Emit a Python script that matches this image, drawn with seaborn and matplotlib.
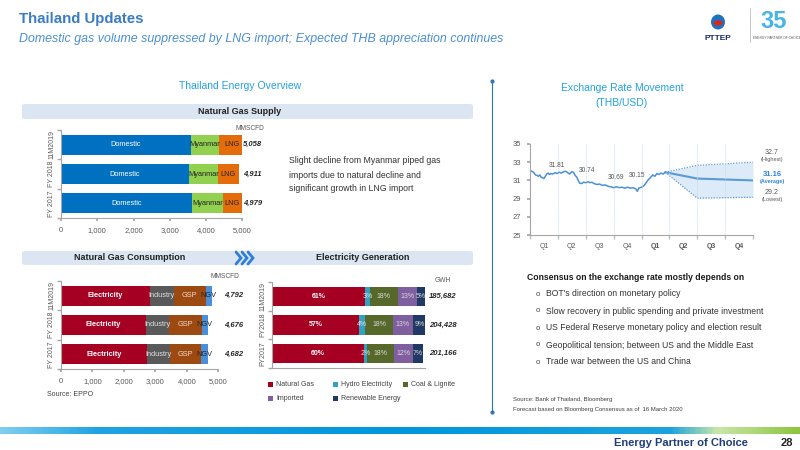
import numpy as np
import pandas as pd
import matplotlib.pyplot as plt
import seaborn as sns
from matplotlib.patches import FancyBboxPatch, Rectangle, Ellipse, Circle
from matplotlib.lines import Line2D
from matplotlib.colors import LinearSegmentedColormap

# ---- data ----
supply_years = ["11M2019", "FY 2018", "FY 2017"]
supply_domestic = [3590, 3530, 3620]
supply_myanmar = [770, 790, 850]
supply_lng = [698, 591, 509]
supply_total = [5058, 4911, 4979]

cons_years = ["11M2019", "FY 2018", "FY 2017"]
cons_electricity = [2840, 2690, 2720]
cons_industry = [740, 750, 730]
cons_gsp = [1020, 1030, 1000]
cons_ngv = [192, 206, 232]
cons_total = [4792, 4676, 4682]

elec_years = ["11M2019", "FY2018", "FY2017"]
elec_gas = [61, 57, 60]
elec_hydro = [3, 4, 2]
elec_coal = [18, 18, 18]
elec_import = [13, 13, 12]
elec_renew = [5, 9, 7]
elec_total = [185682, 204428, 201166]

# THB/USD, x in quarters since start of 2019
fx_q = [0.00, 0.05, 0.10, 0.15, 0.20, 0.25, 0.30, 0.35, 0.40, 0.45, 0.50, 0.55,
        0.60, 0.65, 0.70, 0.75, 0.82, 0.90, 0.98, 1.05, 1.12, 1.20, 1.28, 1.35,
        1.42, 1.50, 1.56, 1.62, 1.68, 1.72, 1.78, 1.85, 1.92, 2.00, 2.08, 2.15,
        2.22, 2.30, 2.40, 2.50, 2.60, 2.70, 2.80, 2.90, 3.00, 3.10, 3.20, 3.30,
        3.40, 3.50, 3.60, 3.70, 3.80, 3.85, 3.90, 4.00, 4.10, 4.18, 4.25, 4.32,
        4.40, 4.48, 4.55, 4.62, 4.70, 4.78, 4.85]
fx_rate = [32.15, 32.0, 31.95, 31.8, 31.6, 31.55, 31.45, 31.6, 31.35, 31.3, 31.2, 31.45,
           31.7, 31.8, 31.65, 31.75, 31.7, 31.85, 31.75, 31.9, 31.8, 31.95, 32.0, 31.85,
           31.7, 31.95, 31.9, 31.55, 31.35, 31.05, 30.7, 30.65, 30.8, 30.75, 30.85, 30.75,
           30.8, 30.65, 30.55, 30.6, 30.45, 30.5, 30.35, 30.3, 30.2, 30.3, 30.2, 30.25,
           30.15, 30.25, 30.15, 30.2, 30.05, 29.8, 30.15, 30.25, 30.45, 30.8, 31.1, 31.3,
           31.6, 31.45, 31.75, 31.65, 31.8, 31.7, 31.9]
fc_q = [4.85, 6.0, 8.0]
fc_avg = [31.9, 31.2, 31.0]
fc_high = [31.9, 32.65, 33.0]
fc_low = [31.9, 29.05, 29.15]
q_labels = ["Q1", "Q2", "Q3", "Q4", "Q1", "Q2", "Q3", "Q4"]
avg_labels = ["31.81", "30.74", "30.69", "30.15"]

bullets = ["BOT's direction on monetary policy",
           "Slow recovery in public spending and private investment",
           "US Federal Reserve monetary policy and election result",
           "Geopolitical tension; between US and the Middle East",
           "Trade war between the US and China"]

sns.set_theme(style="white")
plt.rcParams['font.family'] = ['Liberation Sans', 'DejaVu Sans']

W, H = 800, 450
fig = plt.figure(figsize=(8, 4.5), dpi=100)
fig.patch.set_facecolor("white")


def px_axes(x0, y0, x1, y1):
    return fig.add_axes([x0 / W, 1 - y1 / H, (x1 - x0) / W, (y1 - y0) / H])


def ftext(x, y, s, **kw):
    kw.setdefault("va", "center")
    return fig.text(x / W, 1 - y / H, s, **kw)


def band(x0, y0, x1, y1):
    fig.patches.append(FancyBboxPatch((x0 / W, 1 - y1 / H), (x1 - x0) / W, (y1 - y0) / H,
                                      boxstyle="round,pad=0,rounding_size=0.004",
                                      transform=fig.transFigure, fc="#DCE6F2", ec="none"))


def stacked(ax, cats, segs, colors):
    cum = np.cumsum(np.array(segs, dtype=float), axis=0)
    for i in range(len(segs) - 1, -1, -1):
        sns.barplot(x=cum[i], y=cats, orient="h", color=colors[i], width=0.68,
                    saturation=1, linewidth=0, ax=ax)
    return cum


def style_ax(ax, xmax, ticks, labels, cats):
    ax.set_xlim(0, xmax)
    ax.set_ylim(2.5, -0.5)
    ax.set_xlabel("")
    ax.set_ylabel("")
    ax.set_xticks(ticks)
    ax.set_xticklabels(labels)
    ax.set_yticks([0, 1, 2])
    ax.set_yticklabels(cats, rotation=90, va="center")
    ax.set_yticks([-0.5, 0.5, 1.5, 2.5], minor=True)
    ax.tick_params(axis="y", which="major", length=0, labelsize=5, labelcolor="#595959", pad=4)
    ax.tick_params(axis="y", which="minor", length=3, color="#A6A6A6", left=True)
    ax.tick_params(axis="x", length=2.5, color="#A6A6A6", bottom=True,
                   labelsize=5.5, labelcolor="#595959", pad=4)
    for s in ["top", "right"]:
        ax.spines[s].set_visible(False)
    for s in ["left", "bottom"]:
        ax.spines[s].set_color("#A6A6A6")
        ax.spines[s].set_linewidth(0.8)
    ax.set_facecolor("none")


def seg_labels(ax, cum, names, colors, weights, size=5.3):
    for i, nm in enumerate(names):
        for j in range(cum.shape[1]):
            left = cum[i - 1, j] if i > 0 else 0
            txt = nm if isinstance(nm, str) else nm[j]
            ax.text((left + cum[i, j]) / 2, j, txt, ha="center", va="center",
                    fontsize=size, color=colors[i], fontweight=weights[i])


# ---- header ----
ftext(19, 19, "Thailand Updates", fontsize=10.8, fontweight="bold", color="#3A7CC4")
ftext(19, 39, "Domestic gas volume suppressed by LNG import; Expected THB appreciation continues",
      fontsize=8.9, style="italic", color="#4A8ED6")
ftext(240, 86, "Thailand Energy Overview", fontsize=7.5, color="#22A2E2", ha="center")
ftext(622, 88, "Exchange Rate Movement", fontsize=7.5, color="#22A2E2", ha="center")
ftext(622, 103, "(THB/USD)", fontsize=7.5, color="#22A2E2", ha="center")

# logo
fig.patches.append(Ellipse((718 / W, 1 - 22 / H), 14 / W, 15 / H, transform=fig.transFigure,
                           fc="#1E73BE", ec="none"))
fig.patches.append(Circle((718 / W, 1 - 23 / H), 4.5 / W, transform=fig.transFigure,
                          fc="#E2231A", ec="none"))
ftext(718, 39, "PTTEP", fontsize=6, fontweight="bold", color="#1B2A6B", ha="center")
fig.add_artist(Line2D([750 / W, 750 / W], [1 - 8 / H, 1 - 42 / H], color="#BFBFBF", lw=0.6))
ftext(774, 22, "35", fontsize=17, fontweight="bold", color="#46B4E6", ha="center")
ftext(777, 38, "ENERGY PARTNER OF CHOICE", fontsize=2.3, color="#555555", ha="center")

# divider
fig.add_artist(Line2D([492 / W, 492 / W], [1 - 81 / H, 1 - 412 / H], color="#2E75B6", lw=0.8,
                      marker="o", markersize=2, markevery=[0, 1]))

# ---- Natural Gas Supply ----
band(22, 104, 473, 119)
ftext(240, 111.5, "Natural Gas Supply", fontsize=6.5, fontweight="bold", color="#222222", ha="center")
ax1 = px_axes(61, 130, 242.3, 218)
cum = stacked(ax1, supply_years, [supply_domestic, supply_myanmar, supply_lng],
              ["#0070C0", "#92D050", "#E46C0A"])
style_ax(ax1, 5000, range(0, 5001, 1000), ["0", "1,000", "2,000", "3,000", "4,000", "5,000"],
         supply_years)
seg_labels(ax1, cum, ["Domestic", "Myanmar", "LNG"], ["white", "#222222", "#222222"],
           ["normal", "normal", "normal"])
for j, t in enumerate(supply_total):
    ax1.text(5290, j, f"{t:,}", ha="center", va="center", fontsize=5.5, style="italic",
             fontweight="bold", color="#262626", clip_on=False)
ftext(250, 128, "MMSCFD", fontsize=4.8, color="#595959", ha="center")
ftext(289, 160, "Slight decline from Myanmar piped gas", fontsize=6.3, color="#333333")
ftext(289, 175, "imports due to natural decline and", fontsize=6.3, color="#333333")
ftext(289, 189, "significant growth in LNG import", fontsize=6.3, color="#333333")

# ---- second header band ----
band(22, 251, 473, 265)
ftext(130, 258, "Natural Gas Consumption", fontsize=6.5, fontweight="bold", color="#222222", ha="center")
ftext(363, 258, "Electricity Generation", fontsize=6.5, fontweight="bold", color="#222222", ha="center")
for i in range(3):
    x0 = 236 + i * 6
    fig.add_artist(Line2D([x0 / W, (x0 + 5) / W, x0 / W], [1 - 252 / H, 1 - 258 / H, 1 - 264 / H],
                          color="#2F7FD8", lw=2.0, solid_joinstyle="miter"))

# ---- Natural Gas Consumption ----
ax2 = px_axes(61, 281, 218.3, 369)
cum = stacked(ax2, cons_years, [cons_electricity, cons_industry, cons_gsp, cons_ngv],
              ["#A50021", "#595959", "#9C4A12", "#4A8FD9"])
style_ax(ax2, 5000, range(0, 5001, 1000), ["0", "1,000", "2,000", "3,000", "4,000", "5,000"],
         cons_years)
seg_labels(ax2, cum, ["Electricity", "Industry", "GSP", "NGV"],
           ["white", "#E0E0E0", "#F4D9C6", "#222222"], ["bold", "normal", "normal", "normal"])
for j, t in enumerate(cons_total):
    ax2.text(5500, j, f"{t:,}", ha="center", va="center", fontsize=5.5, style="italic",
             fontweight="bold", color="#262626", clip_on=False)
ftext(225, 277, "MMSCFD", fontsize=4.8, color="#595959", ha="center")
ftext(47, 395, "Source: EPPO", fontsize=5, color="#404040")

# ---- Electricity Generation ----
ax3 = px_axes(272.3, 282, 425, 368)
elec_colors = ["#A50021", "#31A1C4", "#56692A", "#7F5FA0", "#1F3864"]
cum = stacked(ax3, elec_years, [elec_gas, elec_hydro, elec_coal, elec_import, elec_renew], elec_colors)
style_ax(ax3, 100, [], [], elec_years)
ax3.tick_params(axis="x", length=0)
pct = [[f"{v}%" for v in s] for s in [elec_gas, elec_hydro, elec_coal, elec_import, elec_renew]]
seg_labels(ax3, cum, pct, ["white", "#E8E8E8", "#D9D9D9", "#D9D9D9", "#D9D9D9"],
           ["bold", "normal", "normal", "normal", "normal"], size=5)
for j, t in enumerate(elec_total):
    ax3.text(111.8, j, f"{t:,}", ha="center", va="center", fontsize=5.5, style="italic",
             fontweight="bold", color="#262626", clip_on=False)
ftext(443, 281, "GWH", fontsize=4.8, color="#595959", ha="center")

legend_items = [("Natural Gas", 268, 384), ("Hydro Electricity", 333, 384), ("Coal & Lignite", 403, 384),
                ("Imported", 268, 398), ("Renewable Energy", 333, 398)]
for (lab, lx, ly), col in zip(legend_items, elec_colors):
    fig.patches.append(Rectangle((lx / W, 1 - (ly + 2.5) / H), 5 / W, 5 / H,
                                 transform=fig.transFigure, fc=col, ec="none"))
    ftext(lx + 8, ly, lab, fontsize=5, color="#404040")

# ---- Exchange rate ----
ax4 = px_axes(530, 144, 753, 235)
hist = pd.DataFrame({"q": fx_q, "rate": fx_rate})
fc = pd.DataFrame({"q": fc_q, "avg": fc_avg, "high": fc_high, "low": fc_low})
ax4.fill_between(fc["q"], fc["low"], fc["high"], color="#DDEAF7", lw=0)
sns.lineplot(data=fc, x="q", y="high", color="#5B9BD5", lw=0.9, ls=(0, (1, 1.2)), ax=ax4)
sns.lineplot(data=fc, x="q", y="low", color="#5B9BD5", lw=0.9, ls=(0, (1, 1.2)), ax=ax4)
sns.lineplot(data=fc, x="q", y="avg", color="#5B9BD5", lw=1.5, ax=ax4)
sns.lineplot(data=hist, x="q", y="rate", color="#4A90D9", lw=1.1, ax=ax4)
ax4.set_xlim(0, 8)
ax4.set_ylim(25, 35)
ax4.set_xlabel("")
ax4.set_ylabel("")
ax4.set_yticks(range(25, 36, 2))
ax4.set_xticks(np.arange(0.5, 8, 1))
ax4.set_xticklabels(q_labels)
for k, lab in enumerate(ax4.get_xticklabels()):
    if k >= 4:
        lab.set_fontweight("bold")
        lab.set_color("#222222")
ax4.set_xticks(range(0, 9), minor=True)
ax4.tick_params(axis="x", which="major", length=0, labelsize=5, labelcolor="#595959", pad=6)
ax4.tick_params(axis="x", which="minor", length=3, color="#BFBFBF", bottom=True)
ax4.tick_params(axis="y", length=2.5, color="#A6A6A6", left=True, labelsize=5.5,
                labelcolor="#595959", pad=4)
for qv in range(1, 8):
    ax4.axvline(qv, color="#BDD7EE", lw=0.6, ls=(0, (1, 1)))
for s in ["top", "right"]:
    ax4.spines[s].set_visible(False)
for s in ["left", "bottom"]:
    ax4.spines[s].set_color("#A6A6A6")
    ax4.spines[s].set_linewidth(0.8)
ax4.set_facecolor("none")
for lab, (lx, ly) in zip(avg_labels, [(0.97, 32.69), (2.04, 32.14), (3.08, 31.34), (3.84, 31.59)]):
    ax4.text(lx, ly, lab, fontsize=4.8, color="#595959", ha="center", va="center")
ftext(772, 152, "32.7", fontsize=5, color="#595959", ha="center")
ftext(772, 159, "(Highest)", fontsize=4, color="#595959", ha="center")
ftext(772, 175, "31.16", fontsize=5.5, fontweight="bold", color="#2E86DE", ha="center")
ftext(772, 181, "(Average)", fontsize=4, fontweight="bold", color="#2E86DE", ha="center")
ftext(772, 192, "29.2", fontsize=5, color="#595959", ha="center")
ftext(772, 199, "(Lowest)", fontsize=4, color="#595959", ha="center")

# bullets
ftext(527, 277, "Consensus on the exchange rate mostly depends on", fontsize=6.2,
      fontweight="bold", color="#1A1A1A")
for i, b in enumerate(bullets):
    yy = 294 + i * 17
    ftext(536, yy, "o", fontsize=5.5, color="#404040")
    ftext(546, yy, b, fontsize=6.2, color="#333333")
ftext(513, 399, "Source: Bank of Thailand, Bloomberg", fontsize=4.3, color="#404040")
ftext(513, 409, "Forecast based on Bloomberg Consensus as of  16 March 2020", fontsize=4.3,
      color="#404040")

# ---- footer ----
fax = fig.add_axes([0, 1 - 434 / H, 1, 7 / H])
grad = np.linspace(0, 1, 400).reshape(1, -1)
cmap = LinearSegmentedColormap.from_list(
    "foot", [(0, "#7FCDF0"), (0.12, "#1FA3E3"), (0.5, "#0096DB"), (0.84, "#1CA3DE"),
             (0.9, "#C9E6A8"), (1, "#8DC63F")])
fax.imshow(grad, aspect="auto", cmap=cmap, extent=(0, 1, 0, 1))
fax.axis("off")
ftext(748, 443, "Energy Partner of Choice", fontsize=8, fontweight="bold", color="#1F3D7A", ha="right")
ftext(787, 443, "28", fontsize=8, fontweight="bold", color="#222222", ha="center")

fig.savefig("out.png", dpi=100)
